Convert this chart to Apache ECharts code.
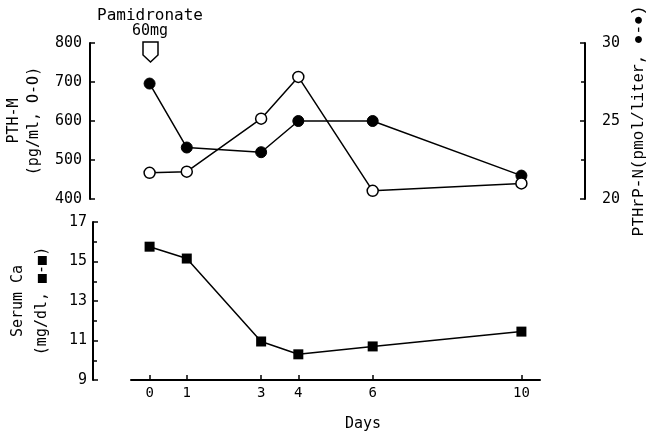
<!DOCTYPE html>
<html><head><meta charset="utf-8">
<script src="https://cdn.jsdelivr.net/npm/echarts@6.0.0/dist/echarts.min.js"></script>
<style>html,body{margin:0;padding:0;background:#fff}#c{width:658px;height:436px}</style>
</head><body><div id="c"></div>
<script>
// Days after pamidronate
const days = [0, 1, 3, 4, 6, 10];
const dayTicks = [0, 1, 3, 4, 6, 10];
// PTH-M (pg/ml), open circles, left axis top
const pthM = [467, 470, 606, 713, 421, 440];
// PTHrP-N (pmol/liter), filled circles, right axis top
const pthrpN = [27.4, 23.3, 23.0, 25.0, 25.0, 21.5];
// Serum Ca (mg/dl), filled squares, bottom
const serumCa = [15.75, 15.15, 10.95, 10.3, 10.7, 11.45];

const pair = (xs, ys) => xs.map((x, i) => [x, ys[i]]);
const F = 'DejaVu Sans Mono';
const axisLine = { show: true, onZero: false, lineStyle: { color: '#000', width: 2 } };
const tickStyle = { color: '#000', width: 1.5 };

const chart = echarts.init(document.getElementById('c'), null, { renderer: 'canvas' });
chart.setOption({
  animation: false,
  backgroundColor: '#fff',
  grid: [
    { left: 131, top: 43, width: 409, height: 156, outerBoundsMode: 'none', containLabel: false },
    { left: 131, top: 222, width: 409, height: 158, outerBoundsMode: 'none', containLabel: false }
  ],
  xAxis: [
    { type: 'value', gridIndex: 0, min: -0.5, max: 10.5, show: false },
    { type: 'value', gridIndex: 1, min: -0.5, max: 10.5,
      axisLine: axisLine,
      axisTick: { inside: true, length: 5, lineStyle: tickStyle, customValues: dayTicks },
      axisLabel: { customValues: dayTicks, color: '#000', fontFamily: F, fontSize: 14, margin: 6 },
      splitLine: { show: false } }
  ],
  yAxis: [
    { type: 'value', gridIndex: 0, position: 'left', offset: 41, min: 400, max: 800, interval: 100,
      axisLine: axisLine,
      axisTick: { show: true, inside: true, length: 5, lineStyle: tickStyle },
      axisLabel: { color: '#000', fontFamily: F, fontSize: 15, margin: 8 },
      splitLine: { show: false },
      name: 'PTH-M\n(pg/ml, O-O)', nameLocation: 'middle', nameRotate: 90, nameGap: 41,
      nameTextStyle: { color: '#000', fontFamily: F, fontSize: 15, lineHeight: 20 } },
    { type: 'value', gridIndex: 0, position: 'right', offset: 45, min: 20, max: 30, interval: 5,
      axisLine: axisLine,
      axisTick: { show: true, inside: true, length: 5, lineStyle: tickStyle },
      minorTick: { show: true, splitNumber: 2, length: 4, lineStyle: { color: '#000', width: 1.5 } },
      axisLabel: { color: '#000', fontFamily: F, fontSize: 15, margin: 17, inside: false },
      splitLine: { show: false },
      name: 'PTHrP-N(pmol/liter, ●-●)', nameLocation: 'middle', nameRotate: 90, nameGap: 46,
      nameTextStyle: { color: '#000', fontFamily: 'Liberation Mono', fontSize: 16 } },
    { type: 'value', gridIndex: 1, position: 'left', offset: 38, min: 9, max: 17, interval: 2,
      axisLine: axisLine,
      axisTick: { show: true, inside: true, length: 5, lineStyle: tickStyle },
      minorTick: { show: true, splitNumber: 2, length: 4, lineStyle: { color: '#000', width: 1.5 } },
      axisLabel: { color: '#000', fontFamily: F, fontSize: 15, margin: 6 },
      splitLine: { show: false },
      name: 'Serum Ca\n(mg/dl, ■-■)', nameLocation: 'middle', nameRotate: 90, nameGap: 39,
      nameTextStyle: { color: '#000', fontFamily: F, fontSize: 15, lineHeight: 24 } }
  ],
  series: [
    { type: 'line', xAxisIndex: 0, yAxisIndex: 1, data: pair(days, pthrpN),
      symbol: 'circle', symbolSize: 11,
      itemStyle: { color: '#000', borderColor: '#000', borderWidth: 1 },
      lineStyle: { color: '#000', width: 1.5 }, z: 3 },
    { type: 'line', xAxisIndex: 0, yAxisIndex: 0, data: pair(days, pthM),
      symbol: 'circle', symbolSize: 11, showAllSymbol: true,
      itemStyle: { color: '#fff', borderColor: '#000', borderWidth: 1.5 },
      lineStyle: { color: '#000', width: 1.5 }, z: 4 },
    { type: 'line', xAxisIndex: 1, yAxisIndex: 2, data: pair(days, serumCa),
      symbol: 'rect', symbolSize: 10,
      itemStyle: { color: '#000' },
      lineStyle: { color: '#000', width: 1.5 } }
  ],
  graphic: [
    { type: 'text', x: 150, y: 8, style: { text: 'Pamidronate', fontFamily: F, fontSize: 16, fill: '#000', align: 'center', textAlign: 'center' } },
    { type: 'text', x: 150, y: 24, style: { text: '60mg', fontFamily: F, fontSize: 15, fill: '#000', align: 'center', textAlign: 'center' } },
    { type: 'polygon', shape: { points: [[143, 42], [158, 42], [158, 55], [150.5, 62], [143, 55]] },
      style: { fill: '#fff', stroke: '#000', lineWidth: 1.5 } },
    { type: 'text', x: 363, y: 417, style: { text: 'Days', fontFamily: F, fontSize: 15, fill: '#000', align: 'center', textAlign: 'center' } }
  ]
});
</script>
</body></html>
